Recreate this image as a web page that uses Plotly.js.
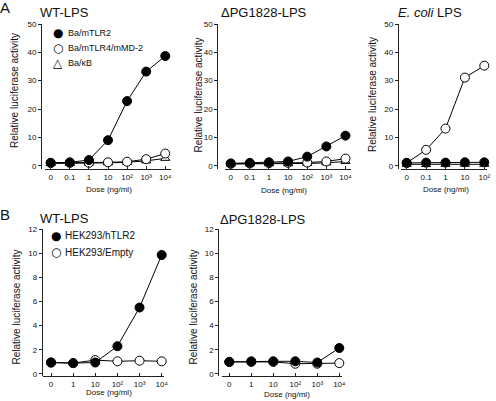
<!DOCTYPE html>
<html>
<head>
<meta charset="utf-8">
<script src="https://cdn.plot.ly/plotly-3.0.1.min.js"></script>
<style>html,body{margin:0;padding:0;background:#fff;}#chart{width:496px;height:401px;}</style>
</head>
<body>
<div id="chart"></div>
<script>
// ---- data ----
const doseLabelsA = ['0', '0.1', '1', '10', '10\u00B2', '10\u00B3', '10\u2074'];
const doseLabelsEcoli = ['0', '0.1', '1', '10', '10\u00B2'];
const doseLabelsB = ['0', '1', '10', '10\u00B2', '10\u00B3', '10\u2074'];

// Panel A, WT-LPS
const wtBaTLR2 = [1.0, 1.2, 2.0, 9.0, 22.8, 33.2, 38.7];
const wtBaTLR4MD2 = [1.0, 1.0, 1.0, 1.2, 1.4, 2.3, 4.3];
const wtBaKB = [0.8, 0.8, 0.9, 1.0, 1.2, 1.7, 2.6];
// Panel A, dPG1828-LPS
const dpgBaTLR2 = [0.8, 1.0, 1.2, 1.5, 3.2, 6.8, 10.6];
const dpgBaTLR4MD2 = [0.7, 0.8, 0.9, 1.0, 1.1, 1.5, 2.5];
const dpgBaKB = [0.6, 0.6, 0.7, 0.7, 0.8, 1.0, 1.5];
// Panel A, E. coli LPS
const ecoliBaTLR2 = [1.0, 1.1, 1.1, 1.2, 1.2];
const ecoliBaTLR4MD2 = [1.0, 5.6, 13.1, 31.1, 35.3];
const ecoliBaKB = [0.5, 0.4, 0.5, 0.5, 0.5];
// Panel B
const wtHekTLR2 = [0.95, 0.9, 0.95, 2.3, 5.5, 9.85];
const wtHekEmpty = [0.95, 0.9, 1.15, 1.05, 1.1, 1.05];
const dpgHekTLR2 = [1.0, 1.05, 1.05, 1.05, 0.95, 2.15];
const dpgHekEmpty = [1.0, 1.0, 1.0, 0.85, 0.85, 0.9];

const seriesNamesA = ['Ba/mTLR2', 'Ba/mTLR4/mMD-2', 'Ba/\u03BAB'];
const seriesNamesB = ['HEK293/hTLR2', 'HEK293/Empty'];
const panelTitles = ['WT-LPS', '\u0394PG1828-LPS', '<i>E. coli</i> LPS', 'WT-LPS', '\u0394PG1828-LPS'];
const yTitle = 'Relative luciferase activity';
const xTitle = 'Dose (ng/ml)';

// ---- geometry helpers ----
const W = 496, H = 401;
const px = x => x / W;
const py = y => 1 - y / H;
const AXC = '#222';

function axisX(d0, d1, range, anchor) {
  return {domain: [px(d0), px(d1)], range: range, type: 'category', anchor: anchor,
    showline: true, linecolor: AXC, linewidth: 1, ticks: 'inside', ticklen: 3, tickcolor: AXC,
    tickfont: {size: 8, color: '#111'}, showgrid: false, zeroline: false, fixedrange: true};
}
function axisY(top, bottom, range, pos, dtick) {
  return {domain: [py(bottom), py(top)], range: range, anchor: 'free', position: px(pos),
    showline: true, linecolor: AXC, linewidth: 1, ticks: 'outside', ticklen: 3, tickcolor: AXC,
    tick0: 0, dtick: dtick, tickfont: {size: 8, color: '#111'}, showgrid: false, zeroline: false, fixedrange: true};
}

const styles = {
  filled: {line: {color: '#000', width: 1}, marker: {symbol: 'circle', size: 9, color: '#000', line: {color: '#000', width: 1}}},
  open: {line: {color: '#000', width: 1}, marker: {symbol: 'circle', size: 9, color: '#fff', line: {color: '#000', width: 1}}},
  tri: {line: {color: '#000', width: 1}, marker: {symbol: 'triangle-up', size: 8, color: '#fff', line: {color: '#000', width: 1}}}
};
function tr(x, y, name, st, xa, ya) {
  return Object.assign({x: x, y: y, name: name, type: 'scatter', mode: 'lines+markers', xaxis: xa, yaxis: ya, cliponaxis: false, hoverinfo: 'skip'}, styles[st]);
}

const data = [
  tr(doseLabelsA, wtBaKB, seriesNamesA[2], 'tri', 'x', 'y'),
  tr(doseLabelsA, wtBaTLR4MD2, seriesNamesA[1], 'open', 'x', 'y'),
  tr(doseLabelsA, wtBaTLR2, seriesNamesA[0], 'filled', 'x', 'y'),
  tr(doseLabelsA, dpgBaKB, seriesNamesA[2], 'tri', 'x2', 'y2'),
  tr(doseLabelsA, dpgBaTLR4MD2, seriesNamesA[1], 'open', 'x2', 'y2'),
  tr(doseLabelsA, dpgBaTLR2, seriesNamesA[0], 'filled', 'x2', 'y2'),
  tr(doseLabelsEcoli, ecoliBaKB, seriesNamesA[2], 'tri', 'x3', 'y3'),
  tr(doseLabelsEcoli, ecoliBaTLR4MD2, seriesNamesA[1], 'open', 'x3', 'y3'),
  tr(doseLabelsEcoli, ecoliBaTLR2, seriesNamesA[0], 'filled', 'x3', 'y3'),
  tr(doseLabelsB, wtHekEmpty, seriesNamesB[1], 'open', 'x4', 'y4'),
  tr(doseLabelsB, wtHekTLR2, seriesNamesB[0], 'filled', 'x4', 'y4'),
  tr(doseLabelsB, dpgHekEmpty, seriesNamesB[1], 'open', 'x5', 'y5'),
  tr(doseLabelsB, dpgHekTLR2, seriesNamesB[0], 'filled', 'x5', 'y5')
];

const titleFont = {family: 'Liberation Sans Narrow, Arial Narrow, Liberation Sans, Arial, sans-serif', size: 13, color: '#111'};
function ann(text, x, y, opts) {
  return Object.assign({text: text, x: px(x), y: py(y), xref: 'paper', yref: 'paper', showarrow: false,
    xanchor: 'center', yanchor: 'middle'}, opts || {});
}
const symFont = {family: 'DejaVu Sans', size: 12, color: '#000'};
const yTitleFont = {size: 10, color: '#111'};
const xTitleFont = {size: 8, color: '#111'};
const legFontA = {size: 9, color: '#111'};
const legFontB = {size: 10, color: '#111'};
const annotations = [
  ann('A', 5, 8, {font: {family: 'Liberation Sans, Arial', size: 15, color: '#111'}}),
  ann('B', 5, 214.5, {font: {family: 'Liberation Sans, Arial', size: 15, color: '#111'}}),
  ann(panelTitles[0], 64, 13, {font: titleFont}),
  ann(panelTitles[1], 264, 13, {font: titleFont}),
  ann(panelTitles[2], 429.5, 13, {font: titleFont}),
  ann(panelTitles[3], 64, 219, {font: titleFont}),
  ann(panelTitles[4], 263, 219.5, {font: titleFont}),
  // y titles
  ann(yTitle, 15, 91, {textangle: -90, font: yTitleFont}),
  ann(yTitle, 197.5, 95, {textangle: -90, font: yTitleFont}),
  ann(yTitle, 372, 95, {textangle: -90, font: yTitleFont}),
  ann(yTitle, 15.5, 307, {textangle: -90, font: yTitleFont}),
  ann(yTitle, 192.5, 307, {textangle: -90, font: yTitleFont}),
  // x titles
  ann(xTitle, 109, 189.5, {font: xTitleFont}),
  ann(xTitle, 284, 190.5, {font: xTitleFont}),
  ann(xTitle, 446, 189.5, {font: xTitleFont}),
  ann(xTitle, 108.5, 392.5, {font: xTitleFont}),
  ann(xTitle, 286.5, 394.5, {font: xTitleFont}),
  // legend A
  ann('\u25CF', 58.2, 33.5, {font: symFont}),
  ann('\u25CB', 58.2, 48.2, {font: symFont}),
  ann('\u25B3', 58.2, 62.7, {font: symFont}),
  ann(seriesNamesA[0], 65.5, 33.5, {xanchor: 'left', font: legFontA}),
  ann(seriesNamesA[1], 65.5, 48.2, {xanchor: 'left', font: legFontA}),
  ann(seriesNamesA[2], 65.5, 62.7, {xanchor: 'left', font: legFontA}),
  // legend B
  ann('\u25CF', 56.3, 235.7, {font: symFont}),
  ann('\u25CB', 56.3, 252.3, {font: symFont}),
  ann(seriesNamesB[0], 63, 235.7, {xanchor: 'left', font: legFontB}),
  ann(seriesNamesB[1], 63, 252.3, {xanchor: 'left', font: legFontB})
];

const layout = {
  width: W, height: H, margin: {l: 0, r: 0, t: 0, b: 0, pad: 0},
  paper_bgcolor: '#fff', plot_bgcolor: 'rgba(0,0,0,0)', showlegend: false,
  font: {family: 'Liberation Sans, Arial, sans-serif', color: '#111'},
  xaxis: axisX(45, 171, [-0.3, 6.3], 'y'),
  yaxis: axisY(24, 169, [-1.16, 50], 41, 10),
  xaxis2: axisX(225, 351.2, [-0.3, 6.3], 'y2'),
  yaxis2: axisY(24, 169, [-1.16, 50], 217.3, 10),
  xaxis3: axisX(400.9, 487.2, [-0.3, 4.15], 'y3'),
  yaxis3: axisY(24, 169, [-1.16, 50], 397.7, 10),
  xaxis4: axisX(43.25, 163.9, [-0.35, 5.1], 'y4'),
  yaxis4: axisY(229, 376, [-0.166, 12], 41.7, 2),
  xaxis5: axisX(221.6, 341.5, [-0.35, 5.1], 'y5'),
  yaxis5: axisY(229, 376, [-0.166, 12], 218.3, 2),
  annotations: annotations
};

Plotly.newPlot('chart', data, layout, {staticPlot: true, displayModeBar: false});
</script>
</body>
</html>
